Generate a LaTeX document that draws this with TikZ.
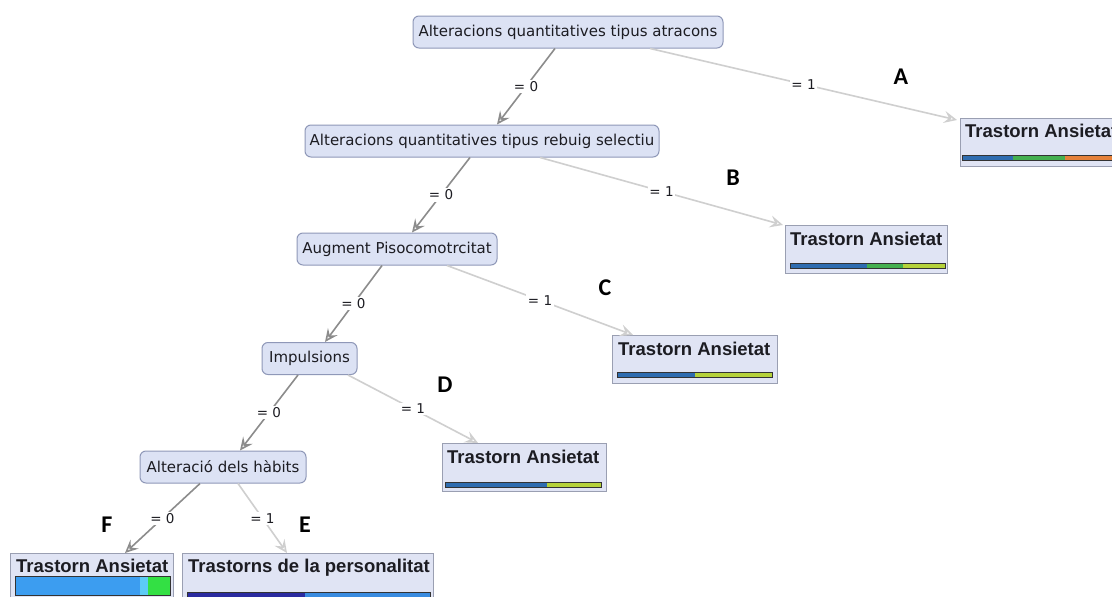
\documentclass[tikz,border=0pt]{standalone}
\usepackage{fontspec}
\usetikzlibrary{arrows.meta,calc}
\newfontfamily\splitfont{DejaVu Sans}
\newfontfamily\leaffont{Liberation Sans}
\newfontfamily\tagfont{Carlito}
\definecolor{nodefill}{HTML}{DCE2F4}
\definecolor{nodeline}{HTML}{8F98B8}
\definecolor{leaffill}{HTML}{E0E4F4}
\definecolor{leafline}{HTML}{9A9FB2}
\definecolor{inkdark}{HTML}{1C1C22}
\definecolor{edgezero}{HTML}{8C8C8C}
\definecolor{edgeone}{HTML}{CFCFCF}
\definecolor{barblue}{HTML}{2F6DB0}
\definecolor{bargreen}{HTML}{45B050}
\definecolor{barorange}{HTML}{E5813A}
\definecolor{barlime}{HTML}{B5D23A}
\definecolor{barsky}{HTML}{3C9DF0}
\definecolor{barcyan}{HTML}{5CCBF5}
\definecolor{barmint}{HTML}{33E044}
\definecolor{barnavy}{HTML}{2B2BA0}
\definecolor{barmid}{HTML}{3A8CE0}
\begin{document}
\begin{tikzpicture}[x=1pt,y=-1pt,
  split/.style={draw=nodeline, line width=1pt, fill=nodefill, rounded corners=6pt,
    minimum height=32pt, inner sep=0pt, text=inkdark,
    font=\splitfont\fontsize{15}{17}\selectfont},
  leaf/.style={draw=leafline, line width=1pt, fill=leaffill, anchor=north west,
    inner sep=0pt, minimum height=48pt},
  leaftext/.style={anchor=base west, inner sep=0pt, text=inkdark,
    font=\leaffont\bfseries\fontsize{18.5}{20}\selectfont},
  elabel/.style={fill=white, inner sep=1.5pt, text=inkdark,
    font=\splitfont\fontsize{13.5}{15}\selectfont},
  tipstyle/.style={-{Stealth[open, length=13pt, width=12pt, inset=5pt, line width=1.6pt]}},
  zeroedge/.style={draw=edgezero, line width=1.6pt, tipstyle},
  oneedge/.style={draw=edgeone, line width=1.6pt, tipstyle},
  tag/.style={inner sep=0pt, text=black, font=\tagfont\bfseries\fontsize{24}{26}\selectfont},
  barline/.style={draw=black!80, line width=0.8pt}]

\clip (0,0) rectangle (1112,597);
\fill[white] (0,0) rectangle (1112,597);

% split nodes
\node[split, minimum width=310pt] (root) at (568,32) {Alteracions quantitatives tipus atracons};
\node[split, minimum width=354pt] (n2) at (482,141) {Alteracions quantitatives tipus rebuig selectiu};
\node[split, minimum width=200pt] (n3) at (397,249) {Augment Pisocomotrcitat};
\node[split, minimum width=95pt] (n4) at (309.5,358.5) {Impulsions};
\node[split, minimum width=166pt] (n5) at (223,467) {Alteració dels hàbits};

% leaves
\node[leaf, minimum width=200pt] (lA) at (960,118) {};
\node[leaf, minimum width=162pt] (lB) at (785,225) {};
\node[leaf, minimum width=165pt] (lC) at (612,335) {};
\node[leaf, minimum width=164pt] (lD) at (442,443) {};
\node[leaf, minimum width=163pt] (lF) at (10,553) {};
\node[leaf, minimum width=251pt] (lE) at (182,553) {};

\node[leaftext] (tA) at ([shift={(5pt,-19pt)}]lA.north west) {Trastorn Ansietat};
\node[leaftext] (tB) at ([shift={(5pt,-20pt)}]lB.north west) {Trastorn Ansietat};
\node[leaftext] (tC) at ([shift={(6pt,-20pt)}]lC.north west) {Trastorn Ansietat};
\node[leaftext] (tD) at ([shift={(5pt,-20pt)}]lD.north west) {Trastorn Ansietat};
\node[leaftext] (tF) at ([shift={(6pt,-19pt)}]lF.north west) {Trastorn Ansietat};
\node[leaftext] (tE) at ([shift={(6pt,-19pt)}]lE.north west) {Trastorns de la personalitat};

% class distribution bars
\fill[barblue] (962,155) rectangle (1013,160);
\fill[bargreen] (1013,155) rectangle (1065,160);
\fill[barorange] (1065,155) rectangle (1120,160);
\draw[barline] (962,155) rectangle (1120,160);

\fill[barblue] (790,263) rectangle (867,268);
\fill[bargreen] (867,263) rectangle (903,268);
\fill[barlime] (903,263) rectangle (945,268);
\draw[barline] (790,263) rectangle (945,268);

\fill[barblue] (617,372) rectangle (695,377);
\fill[barlime] (695,372) rectangle (772,377);
\draw[barline] (617,372) rectangle (772,377);

\fill[barblue] (445,482) rectangle (547,487);
\fill[barlime] (547,482) rectangle (601,487);
\draw[barline] (445,482) rectangle (601,487);

\fill[barsky] (15,576) rectangle (140,595);
\fill[barcyan] (140,576) rectangle (148,595);
\fill[barmint] (148,576) rectangle (170,595);
\draw[barline] (15,576) rectangle (170,595);

\fill[barnavy] (187,592) rectangle (305,598);
\fill[barmid] (305,592) rectangle (430,598);
\draw[barline] (187,592) rectangle (430,598);

% branches
\draw[zeroedge] ([xshift=-13pt]root.south) -- node[elabel] {= 0} ([xshift=15pt]n2.north);
\draw[oneedge] ([xshift=82pt]root.south) -- node[elabel] {= 1} ([shift={(-3pt,-2pt)}]lA.north west);
\draw[zeroedge] ([xshift=-12pt]n2.south) -- node[elabel] {= 0} ([xshift=15pt]n3.north);
\draw[oneedge] ([xshift=58pt]n2.south) -- node[elabel] {= 1} ([xshift=-2pt]lB.north west);
\draw[zeroedge] ([xshift=-15pt]n3.south) -- node[elabel] {= 0} ([xshift=15.5pt]n4.north);
\draw[oneedge] ([xshift=50pt]n3.south) -- node[elabel] {= 1} ([xshift=21pt]lC.north west);
\draw[zeroedge] ([xshift=-11.5pt]n4.south) -- node[elabel] {= 0} ([xshift=17pt]n5.north);
\draw[oneedge] ([xshift=38.5pt]n4.south) -- node[elabel] {= 1} ([xshift=36pt]lD.north west);
\draw[zeroedge] ([xshift=-23pt]n5.south) -- node[elabel] {= 0} ([xshift=115pt]lF.north west);
\draw[oneedge] ([xshift=15pt]n5.south) -- node[elabel] {= 1} ([xshift=105pt]lE.north west);

% leaf tags
\node[tag] (gA) at (901,77) {A};
\node[tag] (gB) at (733,178) {B};
\node[tag] (gC) at (605,288) {C};
\node[tag] (gD) at (445,385) {D};
\node[tag] (gE) at (305,525) {E};
\node[tag] (gF) at (107,525) {F};
\end{tikzpicture}
\end{document}
